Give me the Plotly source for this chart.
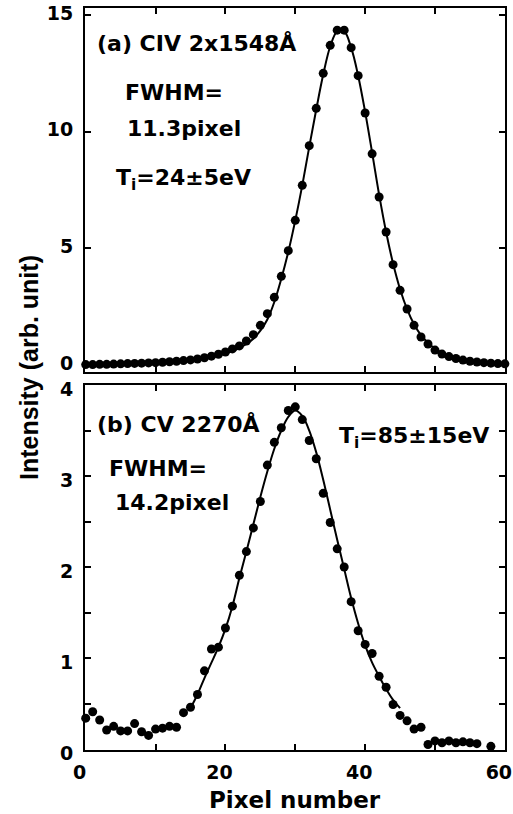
import plotly.graph_objects as go

# ---- (a) CIV 2x1548 Å : measured profile and fit ----
pix_a = list(range(61))
int_a = [0.02, 0.02, 0.03, 0.03, 0.04, 0.05, 0.06, 0.07, 0.08, 0.09,
         0.10, 0.12, 0.14, 0.16, 0.19, 0.22, 0.26, 0.31, 0.38, 0.46,
         0.56, 0.69, 0.82, 1.03, 1.30, 1.70, 2.20, 2.90, 3.80, 4.90,
         6.20, 7.70, 9.40, 11.0, 12.5, 13.7, 14.35, 14.35, 13.6, 12.4,
         10.8, 9.05, 7.20, 5.70, 4.30, 3.20, 2.40, 1.70, 1.20, 0.90,
         0.64, 0.47, 0.36, 0.28, 0.21, 0.16, 0.13, 0.10, 0.08, 0.06, 0.05]
fit_a = [0.04, 0.04, 0.05, 0.05, 0.06, 0.06, 0.07, 0.08, 0.09, 0.10,
         0.11, 0.12, 0.14, 0.16, 0.18, 0.21, 0.24, 0.28, 0.34, 0.41,
         0.50, 0.60, 0.73, 0.90, 1.13, 1.47, 1.95, 2.70, 3.70, 4.85,
         6.20, 7.70, 9.35, 10.95, 12.45, 13.65, 14.3, 14.3, 13.6, 12.4,
         10.85, 9.10, 7.30, 5.70, 4.35, 3.25, 2.40, 1.75, 1.28, 0.95,
         0.70, 0.52, 0.40, 0.31, 0.24, 0.19, 0.15, 0.12, 0.10, 0.08, 0.07]

# ---- (b) CV 2270 Å : measured profile and fit ----
pix_b = list(range(61))
int_b = [0.34, 0.41, 0.32, 0.21, 0.25, 0.20, 0.20, 0.28, 0.19, 0.15,
         0.22, 0.23, 0.25, 0.24, 0.40, 0.46, 0.60, 0.86, 1.10, 1.12,
         1.33, 1.57, 1.91, 2.17, 2.43, 2.72, 3.12, 3.37, 3.53, 3.72,
         3.76, 3.62, 3.39, 3.19, 2.81, 2.49, 2.20, 2.00, 1.62, 1.30,
         1.15, 1.05, 0.80, 0.68, 0.49, 0.37, 0.31, 0.22, 0.24, 0.05,
         0.09, 0.07, 0.09, 0.07, 0.08, 0.07, 0.06, None, 0.03, None, None]
fit_pix_b = list(range(15, 46))
fit_b = [0.45, 0.60, 0.78, 0.95, 1.12, 1.32, 1.57, 1.88, 2.17, 2.47,
         2.77, 3.05, 3.30, 3.50, 3.65, 3.72, 3.66, 3.50, 3.26, 2.96,
         2.63, 2.30, 1.98, 1.66, 1.38, 1.14, 0.95, 0.80, 0.66, 0.54, 0.45]

# axis ticks: labelled (major) and unlabelled (minor)
ytick_a = [0, 5, 10, 15]
ytick_b = [0, 1, 2, 3, 4]
yminor_b = [0.5, 1.5, 2.5, 3.5]
xtick = [0, 20, 40, 60]
xminor = [10, 30, 50]
xtick_top = [10, 20, 30, 40, 50]

BOLD = "DejaVu Sans"
tickfont = dict(family=BOLD, size=19, color="black", weight="bold")
txtfont = dict(family=BOLD, size=22, color="black", weight="bold")

fig = go.Figure()

fig.add_trace(go.Scatter(x=pix_a, y=fit_a, mode="lines", line=dict(color="black", width=2, shape="spline"),
                         xaxis="x2", yaxis="y2", showlegend=False, cliponaxis=False))
fig.add_trace(go.Scatter(x=pix_a, y=int_a, mode="markers", marker=dict(color="black", size=9),
                         xaxis="x2", yaxis="y2", showlegend=False, cliponaxis=False))
fig.add_trace(go.Scatter(x=fit_pix_b, y=fit_b, mode="lines", line=dict(color="black", width=2, shape="spline"),
                         xaxis="x", yaxis="y", showlegend=False, cliponaxis=False))
fig.add_trace(go.Scatter(x=pix_b, y=int_b, mode="markers", marker=dict(color="black", size=9),
                         xaxis="x", yaxis="y", showlegend=False, cliponaxis=False))

minor_style = dict(ticks="inside", ticklen=6, tickwidth=2, tickcolor="black", showgrid=False)
axis_common = dict(showline=True, linecolor="black", linewidth=2, mirror="ticks",
                   ticks="inside", ticklen=6, tickwidth=2, tickcolor="black",
                   showgrid=False, zeroline=False, tickfont=tickfont, automargin=False)

fig.update_layout(
    width=513, height=814,
    margin=dict(l=85, r=8, t=8, b=64),
    paper_bgcolor="white", plot_bgcolor="white",
    xaxis=dict(axis_common, domain=[0, 1], anchor="y", range=[-0.1, 60.02],
               tickmode="array", tickvals=xtick, ticklabelstandoff=4,
               ticklabelshift=-6, ticklabeloverflow="allow",
               minor=dict(minor_style, tickvals=xminor)),
    yaxis=dict(axis_common, domain=[0, 0.4919], anchor="x", range=[-0.01, 4.0],
               tickmode="array", tickvals=ytick_b, ticklabelstandoff=6,
               ticklabelshift=4, ticklabeloverflow="allow",
               minor=dict(minor_style, tickvals=yminor_b)),
    xaxis2=dict(axis_common, domain=[0, 1], anchor="y2", range=[-0.1, 60.02],
                tickmode="array", tickvals=xtick_top, showticklabels=False),
    yaxis2=dict(axis_common, domain=[0.5094, 1], anchor="x2", range=[-0.3, 15.3],
                tickmode="array", tickvals=ytick_a, ticklabelstandoff=6,
                ticklabelshift=-2, ticklabeloverflow="allow"),
)

notes = [
    ("x2", "y2", 1.3, 13.8, "(a) CIV 2x1548Å"),
    ("x2", "y2", 5.3, 11.7, "FWHM="),
    ("x2", "y2", 5.6, 10.15, "11.3pixel"),
    ("x2", "y2", 4.1, 7.95, "T<sub>i</sub>=24±5eV"),
    ("x", "y", 1.3, 3.57, "(b) CV 2270Å"),
    ("x", "y", 35.9, 3.42, "T<sub>i</sub>=85±15eV"),
    ("x", "y", 3.1, 3.08, "FWHM="),
    ("x", "y", 3.9, 2.71, "14.2pixel"),
]
for xr, yr, xv, yv, t in notes:
    fig.add_annotation(xref=xr, yref=yr, x=xv, y=yv, text=t, showarrow=False,
                       xanchor="left", yanchor="middle", font=txtfont)

fig.add_annotation(xref="paper", yref="paper", x=0.5, y=-0.0674, text="Pixel number",
                   showarrow=False, xanchor="center", yanchor="middle",
                   font=dict(family=BOLD, size=23, color="black", weight="bold"))
fig.add_annotation(xref="paper", yref="paper", x=-0.1333, y=0.5148, text="Intensity (arb. unit)",
                   showarrow=False, textangle=-90, xanchor="center", yanchor="middle",
                   font=dict(family="Liberation Sans", size=25, color="black", weight="bold"))

fig.write_html("out.html")
